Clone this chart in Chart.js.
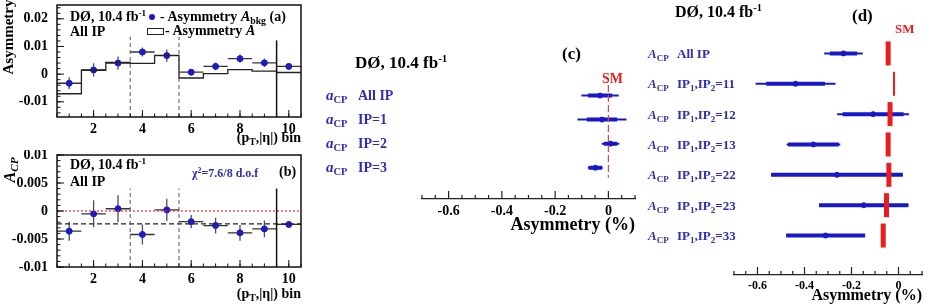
<!DOCTYPE html>
<html>
<head>
<meta charset="utf-8">
<script src="https://cdn.jsdelivr.net/npm/chart.js@4.4.1/dist/chart.umd.min.js"></script>
<style>
body { margin: 0; background: #fff; }
#wrap { position: relative; width: 939px; height: 304px; overflow: hidden;
        font-family: "Liberation Serif", serif; font-weight: bold; }
canvas { position: absolute; }
.t { position: absolute; white-space: nowrap; line-height: 1; }
.t sub { font-size: 0.7em; vertical-align: -0.3em; line-height: 0; }
.t sup { font-size: 0.65em; vertical-align: 0.55em; line-height: 0; }
</style>
</head>
<body>
<div id="wrap">
  <canvas id="ca" width="310" height="150" style="left:0;top:0"></canvas>
  <canvas id="cb" width="310" height="154" style="left:0;top:150px"></canvas>
  <canvas id="cc" width="320" height="220" style="left:320px;top:40px"></canvas>
  <canvas id="cd" width="299" height="304" style="left:640px;top:0"></canvas>
</div>
<script>
// (pT,|eta|) bins, panels (a) and (b)
const bins = [1, 2, 3, 4, 5, 6, 7, 8, 9, 10];
const asymBkg = [-0.0033, 0.0015, 0.0040, 0.0080, 0.0067, 0.0007, 0.0028, 0.0056, 0.0041, 0.0028];
const asymBkgErr = [0.0022, 0.0024, 0.0024, 0.0016, 0.0022, 0.0010, 0.0014, 0.0015, 0.0015, 0.0010];
const asymA = [-0.0071, 0.0014, 0.0042, 0.0039, 0.0068, -0.0014, 0.0002, 0.0016, 0.0011, 0.0006];

const acpBins = [-0.0036, -0.0005, 0.0004, -0.0042, 0.0002, -0.0019, -0.0026, -0.0039, -0.0032, -0.0024];
const acpBinsErr = [0.0017, 0.0024, 0.0024, 0.0018, 0.0020, 0.0012, 0.0014, 0.0014, 0.0015, 0.0005];
const acpMean = -0.0023;

// region boundaries drawn in (a) and (b)
const dividers = [3.5, 5.5];
const lastEdge = 9.5;

// panel (c): a_CP per IP, in %
const ipNames = ['All IP', 'IP=1', 'IP=2', 'IP=3'];
const aCP = [-0.031, -0.024, 0.008, -0.049];
const aCPStat = [0.045, 0.057, 0.025, 0.025];
const aCPTot = [0.070, 0.092, 0.033, 0.028];

// panel (d): A_CP per IP pair, in %
const pairNames = ['All IP', 'IP1,IP2=11', 'IP1,IP2=12', 'IP1,IP2=13', 'IP1,IP2=22', 'IP1,IP2=23', 'IP1,IP2=33'];
const ACP = [-0.234, -0.438, -0.108, -0.362, -0.262, -0.148, -0.310];
const ACPStat = [0.058, 0.125, 0.130, 0.108, 0.280, 0.190, 0.168];
const ACPTot = [0.082, 0.170, 0.153, 0.114, 0.280, 0.190, 0.168];
const ACPsm = [-0.044, -0.019, -0.036, -0.044, -0.041, -0.051, -0.065];
const smWidth = [5, 2, 5, 5, 5, 5, 5];

const serif = '"Liberation Serif", serif';
const BLUE = '#1818c8';
const LABEL_BLUE = '#2e2eb0';
const RED = '#ea1c1c';

function range(a, b, step) {
  const out = [];
  for (let v = a; v <= b + step / 1000; v += step) out.push(+v.toFixed(6));
  return out;
}

// ROOT style frame with ticks pointing inwards
function frameTicks(cfg) {
  return {
    id: 'frameTicks',
    afterDatasetsDraw(chart) {
      const { ctx, chartArea: a, scales: { x, y } } = chart;
      ctx.save();
      ctx.strokeStyle = '#111';
      ctx.lineWidth = 1.5;
      ctx.strokeRect(a.left, a.top, a.right - a.left, a.bottom - a.top);
      ctx.lineWidth = 1;
      ctx.beginPath();
      const xt = (list, len) => list.forEach(v => {
        const px = x.getPixelForValue(v);
        ctx.moveTo(px, a.bottom); ctx.lineTo(px, a.bottom - len);
      });
      const yt = (list, len) => list.forEach(v => {
        const py = y.getPixelForValue(v);
        ctx.moveTo(a.left, py); ctx.lineTo(a.left + len, py);
      });
      xt(cfg.xMajor, 7); xt(cfg.xMinor, 3.5);
      yt(cfg.yMajor, 7); yt(cfg.yMinor, 3.5);
      ctx.stroke();
      ctx.restore();
    }
  };
}

// ticks pointing up from a bare x axis, panels (c) and (d)
function upTicks(major, minor) {
  return {
    id: 'upTicks',
    afterDraw(chart) {
      const { ctx, chartArea: a, scales: { x } } = chart;
      ctx.save();
      ctx.strokeStyle = '#222';
      ctx.lineWidth = 1.2;
      ctx.beginPath();
      major.forEach(v => { const px = x.getPixelForValue(v); ctx.moveTo(px, a.bottom); ctx.lineTo(px, a.bottom - 8); });
      minor.forEach(v => { const px = x.getPixelForValue(v); ctx.moveTo(px, a.bottom); ctx.lineTo(px, a.bottom - 4); });
      ctx.stroke();
      ctx.restore();
    }
  };
}

// error bars taken from ds.err = [{axis, values, color, width}]
const errorBars = {
  id: 'errorBars',
  beforeDatasetsDraw(chart) {
    const { ctx, scales: { x, y } } = chart;
    chart.data.datasets.forEach(ds => {
      if (!ds.err) return;
      ctx.save();
      ds.err.forEach(e => {
        ctx.strokeStyle = e.color;
        ctx.lineWidth = e.width;
        ctx.beginPath();
        ds.data.forEach((p, i) => {
          const d = e.values[i];
          if (e.axis === 'y') {
            ctx.moveTo(x.getPixelForValue(p.x), y.getPixelForValue(p.y - d));
            ctx.lineTo(x.getPixelForValue(p.x), y.getPixelForValue(p.y + d));
          } else {
            ctx.moveTo(x.getPixelForValue(p.x - d), y.getPixelForValue(p.y));
            ctx.lineTo(x.getPixelForValue(p.x + d), y.getPixelForValue(p.y));
          }
        });
        ctx.stroke();
      });
      ctx.restore();
    });
  }
};

const fmt = v => String(+(+v).toFixed(4));
const noGrid = { display: false, drawTicks: false };

function vline(xv, y0, y1, color, dash, width) {
  return { type: 'line', data: [{ x: xv, y: y0 }, { x: xv, y: y1 }], borderColor: color,
           borderWidth: width || 1, borderDash: dash || [], pointRadius: 0 };
}
function hline(yv, x0, x1, color, dash, width) {
  return { type: 'line', data: [{ x: x0, y: yv }, { x: x1, y: yv }], borderColor: color,
           borderWidth: width || 1, borderDash: dash || [], pointRadius: 0 };
}

function binScales(ymin, ymax, yticks, xHeight) {
  return {
    x: {
      type: 'linear', min: 0.5, max: 10.5,
      grid: noGrid, border: { display: false },
      afterBuildTicks: s => { s.ticks = [2, 4, 6, 8, 10].map(v => ({ value: v })); },
      afterFit: s => { s.height = xHeight; s.paddingLeft = 0; s.paddingRight = 0; },
      ticks: { font: { family: serif, size: 14, weight: 'bold' }, color: '#000', padding: 4, maxRotation: 0 }
    },
    y: {
      type: 'linear', min: ymin, max: ymax,
      grid: noGrid, border: { display: false },
      afterBuildTicks: s => { s.ticks = yticks.map(v => ({ value: v })); },
      afterFit: s => { s.width = 57; s.paddingTop = 0; s.paddingBottom = 0; },
      ticks: { font: { family: serif, size: 14, weight: 'bold' }, color: '#000', padding: 9, callback: fmt }
    }
  };
}

// ---------- panel (a)
const histPts = [];
bins.forEach((b, i) => { histPts.push({ x: b - 0.5, y: asymA[i] }, { x: b + 0.5, y: asymA[i] }); });

const chartA = new Chart(document.getElementById('ca'), {
  type: 'scatter',
  data: {
    datasets: [
      ...dividers.map(d => vline(d, -0.0155, 0.0135, '#555', [4, 3])),
      vline(lastEdge, -0.0155, 0.0122, '#111', [], 1.5),
      { type: 'line', data: histPts, borderColor: '#222', borderWidth: 1.3, pointRadius: 0, tension: 0 },
      { data: bins.map((b, i) => ({ x: b, y: asymBkg[i] })), backgroundColor: '#1c1cc0', borderColor: '#1c1cc0',
        pointRadius: 3,
        err: [{ axis: 'x', values: bins.map(() => 0.5), color: '#333', width: 1.3 },
              { axis: 'y', values: asymBkgErr, color: '#4a4a8a', width: 1.3 }] }
    ]
  },
  options: {
    responsive: false, animation: false, devicePixelRatio: 1,
    layout: { padding: { top: 3, right: 9, left: 0, bottom: 0 } },
    plugins: { legend: { display: false }, tooltip: { enabled: false } },
    scales: binScales(-0.0155, 0.025, [-0.01, 0, 0.01, 0.02], 33)
  },
  plugins: [errorBars, frameTicks({
    xMajor: [2, 4, 6, 8, 10], xMinor: range(0.5, 10.5, 0.5),
    yMajor: [-0.01, 0, 0.01, 0.02], yMinor: range(-0.014, 0.024, 0.002)
  })]
});

// ---------- panel (b)
const chartB = new Chart(document.getElementById('cb'), {
  type: 'scatter',
  data: {
    datasets: [
      ...dividers.map(d => vline(d, -0.01, 0.004, '#555', [4, 3])),
      vline(lastEdge, -0.01, 0.004, '#111', [], 1.5),
      hline(0, 0.5, 10.5, '#e03030', [2, 2], 1.2),
      hline(acpMean, 0.5, 10.5, '#222', [5, 3], 1.2),
      { data: bins.map((b, i) => ({ x: b, y: acpBins[i] })), backgroundColor: '#1c1cc0', borderColor: '#1c1cc0',
        pointRadius: 3,
        err: [{ axis: 'x', values: bins.map(() => 0.5), color: '#333', width: 1.3 },
              { axis: 'y', values: acpBinsErr, color: '#4a4a6a', width: 1.3 }] }
    ]
  },
  options: {
    responsive: false, animation: false, devicePixelRatio: 1,
    layout: { padding: { top: 4, right: 9, left: 0, bottom: 0 } },
    plugins: { legend: { display: false }, tooltip: { enabled: false } },
    scales: binScales(-0.01, 0.01, [-0.01, -0.005, 0, 0.005, 0.01], 37)
  },
  plugins: [errorBars, frameTicks({
    xMajor: [2, 4, 6, 8, 10], xMinor: range(0.5, 10.5, 0.5),
    yMajor: [-0.01, -0.005, 0, 0.005, 0.01], yMinor: range(-0.01, 0.01, 0.001)
  })]
});

// ---------- panels (c) and (d)
function asymScales(ymin, ymax, xHeight, tickSize, titleSize, titlePad) {
  return {
    x: {
      type: 'linear', min: -0.7, max: 0.1,
      grid: noGrid,
      border: { display: true, color: '#222', width: 1.3 },
      afterBuildTicks: s => { s.ticks = [-0.6, -0.4, -0.2, 0].map(v => ({ value: v })); },
      afterFit: s => { s.height = xHeight; s.paddingLeft = 0; s.paddingRight = 0; },
      ticks: { font: { family: serif, size: tickSize, weight: 'bold' }, color: '#000', padding: 4, maxRotation: 0, callback: fmt },
      title: { display: true, text: 'Asymmetry (%)', align: 'end', color: '#000',
               font: { family: serif, size: titleSize, weight: 'bold', lineHeight: 1 },
               padding: { top: 0, bottom: titlePad } }
    },
    y: { type: 'linear', display: false, min: ymin, max: ymax, reverse: true }
  };
}

const chartC = new Chart(document.getElementById('cc'), {
  type: 'scatter',
  data: {
    datasets: [
      vline(0, -0.44, 3.42, '#e04848', [7, 3], 1.2),
      { data: aCP.map((v, i) => ({ x: v, y: i })), backgroundColor: BLUE, borderColor: BLUE, pointRadius: 2.5,
        err: [{ axis: 'x', values: aCPTot, color: BLUE, width: 2 },
              { axis: 'x', values: aCPStat, color: BLUE, width: 4 }] }
    ]
  },
  options: {
    responsive: false, animation: false, devicePixelRatio: 1,
    layout: { padding: { top: 31.5, right: 4, left: 102, bottom: 0 } },
    plugins: { legend: { display: false }, tooltip: { enabled: false } },
    scales: asymScales(-1, 4.3, 61, 14, 18, 26)
  },
  plugins: [errorBars, upTicks([-0.6, -0.4, -0.2, 0], range(-0.7, 0.1, 0.05))]
});

const chartD = new Chart(document.getElementById('cd'), {
  type: 'scatter',
  data: {
    datasets: [
      { data: ACP.map((v, i) => ({ x: v, y: i })), backgroundColor: BLUE, borderColor: BLUE, pointRadius: 2.5,
        err: [{ axis: 'x', values: ACPTot, color: BLUE, width: 2 },
              { axis: 'x', values: ACPStat, color: BLUE, width: 4 }] },
      { data: ACPsm.map((v, i) => ({ x: v, y: i })), pointStyle: 'line', rotation: 90, pointRadius: 12,
        borderColor: RED, pointBorderWidth: smWidth, backgroundColor: RED }
    ]
  },
  options: {
    responsive: false, animation: false, devicePixelRatio: 1,
    layout: { padding: { top: 9.8, right: 14, left: 94, bottom: 0 } },
    plugins: { legend: { display: false }, tooltip: { enabled: false } },
    scales: asymScales(-1.2, 7.3, 29, 12, 16, 0)
  },
  plugins: [errorBars, upTicks([-0.6, -0.4, -0.2, 0], range(-0.7, 0.1, 0.05))]
});

// ---------- text overlays
const wrap = document.getElementById('wrap');
function put(html, x, yc, size, color, right) {
  const d = document.createElement('div');
  d.className = 't';
  d.innerHTML = html;
  d.style.fontSize = size + 'px';
  d.style.top = (yc - size / 2) + 'px';
  if (right) d.style.right = (939 - x) + 'px'; else d.style.left = x + 'px';
  if (color) d.style.color = color;
  wrap.appendChild(d);
  return d;
}
function putRot(html, xc, yc, size) {
  const d = document.createElement('div');
  d.className = 't';
  d.innerHTML = html;
  d.style.fontSize = size + 'px';
  d.style.left = xc + 'px';
  d.style.top = yc + 'px';
  d.style.transform = 'translate(-50%,-50%) rotate(-90deg)';
  wrap.appendChild(d);
}
const D0 = 'D&Oslash;, 10.4 fb<sup>-1</sup>';

// (a)
put(D0, 70, 17, 14);
put('All IP', 70, 32, 14);
const dot = document.createElement('div');
dot.style.cssText = 'position:absolute;left:149px;top:14px;width:6px;height:6px;border-radius:50%;background:#1c1cc0';
wrap.appendChild(dot);
put('- Asymmetry <i>A</i><sub>bkg</sub> (a)', 160, 17, 14);
const box = document.createElement('div');
box.style.cssText = 'position:absolute;left:147px;top:28px;width:15px;height:5px;border:1px solid #222';
wrap.appendChild(box);
put('- Asymmetry <i>A</i>', 165, 31, 14);
put('(p<sub>T</sub>,|&eta;|) bin', 301, 138, 14, null, true);
putRot('Asymmetry', 8, 37, 15);

// (b)
put(D0, 70, 165, 14);
put('All IP', 70, 182, 14);
put('&chi;<sup>2</sup>=7.6/8 d.o.f', 192, 173, 12, LABEL_BLUE);
put('(b)', 279, 172, 14);
put('(p<sub>T</sub>,|&eta;|) bin', 301, 294, 14, null, true);
putRot('<i>A</i><sub><i>CP</i></sub>', 10, 170, 16);

// (c)
put(D0, 355, 62, 17);
put('(c)', 562, 53, 17);
put('SM', 602, 79, 14, RED);
ipNames.forEach((n, i) => {
  const yc = chartC.scales.y.getPixelForValue(i) + 40;
  put('<i>a</i><sub>CP</sub>', 326, yc, 15, LABEL_BLUE);
  put(n, 358, yc, 14, LABEL_BLUE);
});

// (d)
put(D0, 675, 12, 16);
put('(d)', 852, 15, 17);
put('SM', 895, 28, 13, RED);
pairNames.forEach((n, i) => {
  const yc = chartD.scales.y.getPixelForValue(i);
  put('<i>A</i><sub>CP</sub>', 648, yc, 13, LABEL_BLUE);
  put(n.replace(/IP(\d)(?=[,=])/g, 'IP<sub>$1</sub>'), 677, yc, 13, LABEL_BLUE);
});
</script>
</body>
</html>
